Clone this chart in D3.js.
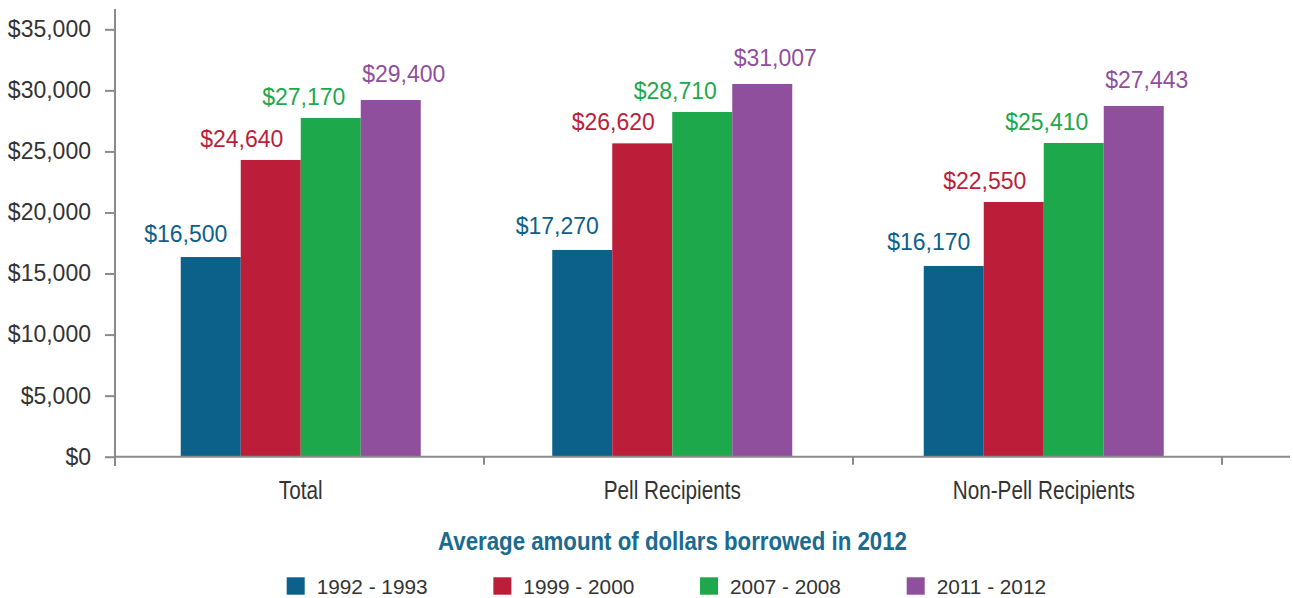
<!DOCTYPE html>
<html>
<head>
<meta charset="utf-8">
<script src="https://cdn.jsdelivr.net/npm/d3@7"></script>
<style>
  html, body { margin: 0; padding: 0; background: #fff; }
  svg { display: block; font-family: "Liberation Sans", Arial, sans-serif; }
</style>
</head>
<body>
<svg id="chart" width="1293" height="598"></svg>
<script>
// ---------------- data ----------------
const categories = ["Total", "Pell Recipients", "Non-Pell Recipients"];
const seriesNames = ["1992 - 1993", "1999 - 2000", "2007 - 2008", "2011 - 2012"];
// bar heights as drawn in the picture
const values1992 = [16350, 16930, 15620];
const values1999 = [24300, 25660, 20860];
const values2007 = [27740, 28230, 25690];
const values2011 = [29210, 30520, 28720];
// value labels as printed
const labels1992 = ["$16,500", "$17,270", "$16,170"];
const labels1999 = ["$24,640", "$26,620", "$22,550"];
const labels2007 = ["$27,170", "$28,710", "$25,410"];
const labels2011 = ["$29,400", "$31,007", "$27,443"];
const yTickValues = [0, 5000, 10000, 15000, 20000, 25000, 30000, 35000];
const yTickLabels = ["$0", "$5,000", "$10,000", "$15,000", "$20,000", "$25,000", "$30,000", "$35,000"];
const titleText = "Average amount of dollars borrowed in 2012";

// ---------------- styles ----------------
const colors = ["#0b618a", "#bc1d39", "#1ca84b", "#904f9d"];
const labelDx = [-25, -29, -27, 13];
const labelGap = [15.5, 13, 13, 18];
const axisColor = "#8a8a8a";
const textColor = "#333333";

const allValues = [values1992, values1999, values2007, values2011];
const allLabels = [labels1992, labels1999, labels2007, labels2011];

const svg = d3.select("#chart");

const y = d3.scaleLinear().domain([0, 35000]).range([456.7, 29.3]);
const xCenter = d3.scalePoint().domain(categories).range([115, 1229.5]).padding(0.5);
const xInner = d3.scaleBand().domain(seriesNames).range([-120, 120]);
const xTickBand = d3.scaleBand().domain(categories).range([115, 1222]);

// y axis
const yAxis = d3.axisLeft(y)
  .tickValues(yTickValues)
  .tickSize(10)
  .tickPadding(14)
  .tickFormat((d, i) => yTickLabels[i]);
const gy = svg.append("g").attr("transform", "translate(115,0)").call(yAxis);
gy.select(".domain").remove();
gy.selectAll(".tick line").attr("stroke", axisColor).attr("stroke-width", 2);
gy.selectAll(".tick text")
  .attr("fill", textColor)
  .attr("font-size", 23)
  .attr("font-family", "'Liberation Sans', Arial, sans-serif");

// bars
const data = [];
categories.forEach((c, ci) => {
  seriesNames.forEach((s, si) => {
    data.push({ c, s, si, v: allValues[si][ci], label: allLabels[si][ci] });
  });
});

svg.append("g").selectAll("rect")
  .data(data)
  .join("rect")
  .attr("x", d => xCenter(d.c) + xInner(d.s))
  .attr("y", d => y(d.v))
  .attr("width", xInner.bandwidth())
  .attr("height", d => y(0) - y(d.v))
  .attr("fill", d => colors[d.si]);

// value labels
svg.append("g").selectAll("text")
  .data(data)
  .join("text")
  .attr("x", d => xCenter(d.c) + xInner(d.s) + xInner.bandwidth() / 2 + labelDx[d.si])
  .attr("y", d => y(d.v) - labelGap[d.si])
  .attr("text-anchor", "middle")
  .attr("font-size", 23)
  .attr("fill", d => colors[d.si])
  .text(d => d.label);

// axis lines
svg.append("line")
  .attr("x1", 115).attr("x2", 115).attr("y1", 9).attr("y2", 466)
  .attr("stroke", axisColor).attr("stroke-width", 2);
svg.append("line")
  .attr("x1", 115).attr("x2", 1290).attr("y1", y(0)).attr("y2", y(0))
  .attr("stroke", axisColor).attr("stroke-width", 2);
svg.append("g").selectAll("line")
  .data(categories)
  .join("line")
  .attr("x1", d => xTickBand(d) + xTickBand.bandwidth())
  .attr("x2", d => xTickBand(d) + xTickBand.bandwidth())
  .attr("y1", y(0)).attr("y2", y(0) + 8)
  .attr("stroke", axisColor).attr("stroke-width", 2);

// helper for condensed text
function condensedText(sel, sx) {
  return sel.attr("transform", function () {
    const tx = +this.getAttribute("data-x"), ty = +this.getAttribute("data-y");
    return `translate(${tx},${ty}) scale(${sx},1)`;
  });
}

// category labels
svg.append("g").selectAll("text")
  .data(categories)
  .join("text")
  .attr("data-x", d => xCenter(d))
  .attr("data-y", 498.5)
  .attr("text-anchor", "middle")
  .attr("font-size", 25)
  .attr("fill", textColor)
  .text(d => d)
  .call(condensedText, 0.83);

// title
svg.append("text")
  .attr("data-x", 672.5)
  .attr("data-y", 549.5)
  .attr("text-anchor", "middle")
  .attr("font-size", 25)
  .attr("font-weight", "bold")
  .attr("fill", "#1b6a8f")
  .text(titleText)
  .call(condensedText, 0.89);

// legend
const legendX = d3.scalePoint().domain(seriesNames).range([286.7, 906.7]);
const lg = svg.append("g").selectAll("g")
  .data(seriesNames)
  .join("g");
lg.append("rect")
  .attr("x", d => legendX(d))
  .attr("y", 577.3)
  .attr("width", 18)
  .attr("height", 17.4)
  .attr("fill", (d, i) => colors[i]);
lg.append("text")
  .attr("data-x", d => legendX(d) + 30)
  .attr("data-y", 593.5)
  .attr("font-size", 21)
  .attr("fill", textColor)
  .text(d => d)
  .call(condensedText, 0.99);
</script>
</body>
</html>
